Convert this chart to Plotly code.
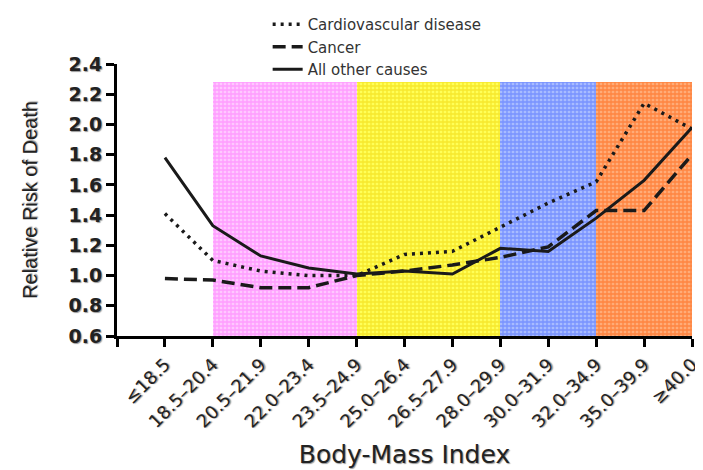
import plotly.graph_objects as go

categories = ["≤18.5", "18.5–20.4", "20.5–21.9", "22.0–23.4", "23.5–24.9", "25.0–26.4",
              "26.5–27.9", "28.0–29.9", "30.0–31.9", "32.0–34.9", "35.0–39.9", "≥40.0"]
cardio = [1.41, 1.10, 1.03, 1.00, 1.00, 1.14, 1.16, 1.32, 1.48, 1.62, 2.14, 1.97]
cancer = [0.98, 0.97, 0.92, 0.92, 1.00, 1.03, 1.07, 1.12, 1.19, 1.43, 1.43, 1.80]
other = [1.78, 1.33, 1.13, 1.05, 1.01, 1.03, 1.01, 1.18, 1.16, 1.38, 1.63, 1.98]

band_start = [1, 4, 7, 9]
band_end = [4, 7, 9, 11]
band_fill = ["#FFC8FF", "#FFFF58", "#A8BCFF", "#FFAC78"]
band_line = ["#FF70FF", "#EED000", "#4868FF", "#FF5C08"]
band_bottom = 0.6
band_top = 2.28

xs = list(range(len(categories)))

fig = go.Figure()

for s, e, fc, lc in zip(band_start, band_end, band_fill, band_line):
    fig.add_trace(go.Bar(
        x=[(s + e) / 2], y=[band_top - band_bottom], base=[band_bottom], width=[e - s],
        marker=dict(color=fc, line=dict(width=0),
                    pattern=dict(shape="+", fgcolor=lc, bgcolor=fc, size=4, solidity=0.55)),
        showlegend=False, hoverinfo="skip"))

shadow = "1px 1px 1px #999"
fig.add_trace(go.Scatter(x=xs, y=cardio, mode="lines", name="Cardiovascular disease",
                         line=dict(color="#1a1a1a", width=3.5, dash="3px,5px")))
fig.add_trace(go.Scatter(x=xs, y=cancer, mode="lines", name="Cancer",
                         line=dict(color="#1a1a1a", width=3.5, dash="13px,6px")))
fig.add_trace(go.Scatter(x=xs, y=other, mode="lines", name="All other causes",
                         line=dict(color="#1a1a1a", width=3)))

fig.update_layout(
    width=695, height=462,
    margin=dict(l=109, r=11, t=56, b=134, autoexpand=False),
    paper_bgcolor="white", plot_bgcolor="white",
    barmode="overlay", bargap=0,
    font=dict(family="DejaVu Sans, Liberation Sans, Arial, sans-serif", color="#222"),
    legend=dict(x=0.262, y=1.206, xanchor="left", yanchor="top",
                font=dict(size=15, color="#333"), itemwidth=30,
                bgcolor="rgba(0,0,0,0)", tracegroupgap=0),
    xaxis=dict(
        range=[-1, 11], tickmode="array", automargin=False,
        tickvals=[-1] + xs, ticktext=[""] + categories,
        tickangle=-45, tickfont=dict(size=18, color="#222", shadow=shadow),
        ticks="outside", ticklen=8, tickwidth=3, tickcolor="black",
        showline=True, linewidth=3, linecolor="black", showgrid=False, zeroline=False,
        title=dict(text="Body-Mass Index", font=dict(size=25, color="#222", shadow=shadow), standoff=15),
    ),
    yaxis=dict(
        range=[0.6, 2.4], tickmode="array", automargin=False,
        tickvals=[0.6, 0.8, 1.0, 1.2, 1.4, 1.6, 1.8, 2.0, 2.2, 2.4],
        ticktext=["0.6", "0.8", "1.0", "1.2", "1.4", "1.6", "1.8", "2.0", "2.2", "2.4"],
        tickfont=dict(size=19, color="#222", weight="bold", shadow=shadow),
        ticks="outside", ticklen=8, tickwidth=3, tickcolor="black",
        showline=True, linewidth=3, linecolor="black", showgrid=False, zeroline=False,
        title=dict(text="Relative Risk of Death",
                   font=dict(size=20, color="#222", family="Liberation Sans, Arial",
                             shadow=shadow), standoff=26),
    ),
)

fig.write_html("out.html")
